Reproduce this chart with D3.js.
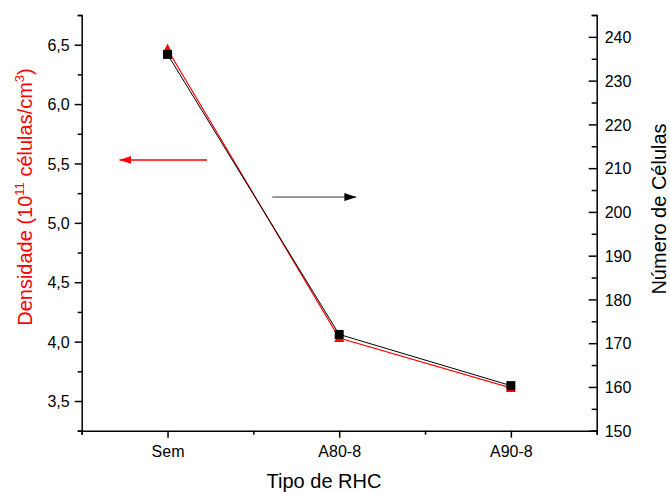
<!DOCTYPE html>
<html>
<head>
<meta charset="utf-8">
<script src="https://cdn.jsdelivr.net/npm/d3@7"></script>
<style>
  body { margin: 0; background: #fff; }
  text { font-family: Arial, "Liberation Sans", sans-serif; }
</style>
</head>
<body>
<svg width="670" height="492"></svg>
<script>
// data
var categories = ["Sem", "A80-8", "A90-8"];
var densidade = [6.46, 4.03, 3.61];       // 10^11 células/cm3 (left axis, red)
var numeroCelulas = [236, 172, 160.3];    // right axis, black
var leftTicks = [3.5, 4.0, 4.5, 5.0, 5.5, 6.0, 6.5];
var rightTicks = [150, 160, 170, 180, 190, 200, 210, 220, 230, 240];
// annotation arrows: [x from, x to, value]
var redArrow = [1.23, 0.72, 5.53];
var blackArrow = [1.61, 2.10, 203.4];

var svg = d3.select("svg"),
    plotL = 81.7, plotR = 596.7, plotT = 15, plotB = 430.7;

var x = d3.scaleLinear().domain([0.5, 3.5]).range([plotL, plotR]);
var yL = d3.scaleLinear().domain([3.25, 6.75]).range([plotB, plotT]);
var yR = d3.scaleLinear().domain([150, 245]).range([plotB, plotT]);

var fmt = function(d) { return d3.format(".1f")(d).replace(".", ","); };
var isMajorL = function(d) { return leftTicks.some(t => Math.abs(t - d) < 1e-6); };

// left axis
var gl = svg.append("g").attr("transform", "translate(" + plotL + ",0)");
gl.call(d3.axisLeft(yL).tickValues(d3.range(3.25, 6.76, 0.25)).tickSize(4).tickFormat(""));
gl.selectAll(".tick").filter(isMajorL).select("line").attr("x2", -7);
gl.selectAll(".tick").filter(isMajorL)
  .append("text").attr("x", -12).attr("dy", "0.35em").attr("text-anchor", "end")
  .attr("fill", "#000").style("font-size", "16px").text(d => fmt(d));

// right axis, ticks point inward
var gr = svg.append("g").attr("transform", "translate(" + plotR + ",0)");
gr.call(d3.axisLeft(yR).tickValues(d3.range(150, 246, 5)).tickSize(5).tickFormat(""));
gr.selectAll(".tick").filter(d => rightTicks.indexOf(d) >= 0).select("line").attr("x2", -8);
gr.selectAll(".tick").filter(d => rightTicks.indexOf(d) >= 0)
  .append("text").attr("x", 8).attr("dy", "0.35em").attr("text-anchor", "start")
  .attr("fill", "#000").style("font-size", "16px").text(d => d);

// bottom axis
var gb = svg.append("g").attr("transform", "translate(0," + plotB + ")");
gb.call(d3.axisBottom(x).tickValues([0.5, 1, 1.5, 2, 2.5, 3, 3.5]).tickSize(4).tickFormat(""));
gb.selectAll(".tick").filter(d => d % 1 === 0).select("line").attr("y2", 7);
gb.selectAll(".tick").filter(d => d % 1 === 0)
  .append("text").attr("y", 26).attr("text-anchor", "middle")
  .attr("fill", "#000").style("font-size", "16px").text(d => categories[d - 1]);

svg.selectAll(".domain").attr("stroke-width", 1.5);
svg.selectAll(".tick line").attr("stroke-width", 1.5);

// axis titles
svg.append("text").attr("x", 324).attr("y", 488).attr("text-anchor", "middle")
  .style("font-size", "20px").text("Tipo de RHC");

var lt = svg.append("text").attr("transform", "translate(32,197)rotate(-90)")
  .attr("text-anchor", "middle").attr("fill", "#ff0000").style("font-size", "20px");
lt.append("tspan").text("Densidade (10");
lt.append("tspan").attr("dy", -8).style("font-size", "13px").text("11");
lt.append("tspan").attr("dy", 8).text(" células/cm");
lt.append("tspan").attr("dy", -8).style("font-size", "13px").text("3");
lt.append("tspan").attr("dy", 8).text(")");

svg.append("text").attr("transform", "translate(666,209)rotate(-90)")
  .attr("text-anchor", "middle").style("font-size", "20px").text("Número de Células");

// series
var idx = d3.range(categories.length);
var lineL = d3.line().x(i => x(i + 1)).y(i => yL(densidade[i]));
var lineR = d3.line().x(i => x(i + 1)).y(i => yR(numeroCelulas[i]));

svg.append("path").attr("d", lineL(idx)).attr("fill", "none").attr("stroke", "#ff0000").attr("stroke-width", 1.2);
svg.append("g").selectAll("path").data(idx).enter().append("path")
  .attr("transform", i => "translate(" + x(i + 1) + "," + yL(densidade[i]) + ")")
  .attr("d", "M0,-6L5,4L-5,4Z").attr("fill", "#ff0000");

svg.append("path").attr("d", lineR(idx)).attr("fill", "none").attr("stroke", "#000").attr("stroke-width", 1);
svg.append("g").selectAll("rect").data(idx).enter().append("rect")
  .attr("x", i => x(i + 1) - 4.5).attr("y", i => yR(numeroCelulas[i]) - 4.5)
  .attr("width", 9).attr("height", 9).attr("fill", "#000");

// arrows
var defs = svg.append("defs");
[["ar", "#ff0000"], ["ab", "#000"]].forEach(function(m) {
  defs.append("marker").attr("id", m[0]).attr("viewBox", "0 0 12 8")
    .attr("refX", 12).attr("refY", 4).attr("markerWidth", 12).attr("markerHeight", 8)
    .attr("markerUnits", "userSpaceOnUse").attr("orient", "auto")
    .append("path").attr("d", "M0,0L12,4L0,8Z").attr("fill", m[1]);
});
svg.append("line").attr("x1", x(redArrow[0])).attr("x2", x(redArrow[1]))
  .attr("y1", yL(redArrow[2])).attr("y2", yL(redArrow[2]))
  .attr("stroke", "#ff0000").attr("stroke-width", 1.5).attr("marker-end", "url(#ar)");
svg.append("line").attr("x1", x(blackArrow[0])).attr("x2", x(blackArrow[1]))
  .attr("y1", yR(blackArrow[2])).attr("y2", yR(blackArrow[2]))
  .attr("stroke", "#333").attr("stroke-width", 1).attr("marker-end", "url(#ab)");
</script>
</body>
</html>
